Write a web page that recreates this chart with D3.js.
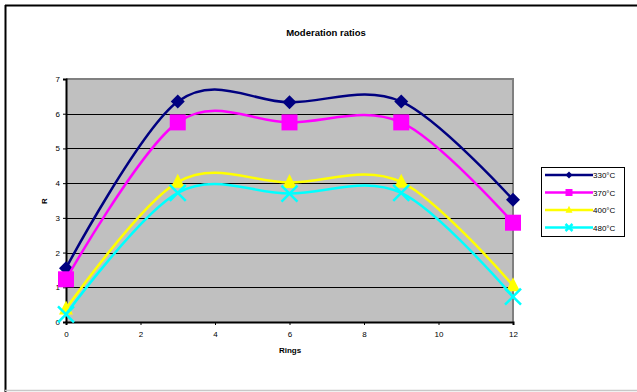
<!DOCTYPE html>
<html>
<head>
<meta charset="utf-8">
<script src="https://cdn.jsdelivr.net/npm/d3@7"></script>
<style>
  html, body { margin: 0; padding: 0; background: #fff; }
  svg { display: block; font-family: Arial, "Liberation Sans", sans-serif; }
</style>
</head>
<body>
<svg id="chart" width="637" height="392"></svg>
<script>
// Moderation ratio R per ring position, one series per temperature
const rings = [0, 3, 6, 9, 12];
const seriesNames = ["330°C", "370°C", "400°C", "480°C"];
const r330 = [1.55, 6.35, 6.33, 6.35, 3.52];
const r370 = [1.23, 5.75, 5.75, 5.75, 2.86];
const r400 = [0.38, 4.03, 4.02, 4.03, 1.05];
const r480 = [0.22, 3.72, 3.70, 3.72, 0.73];
const xTicks = [0, 2, 4, 6, 8, 10, 12];
const yTicks = [0, 1, 2, 3, 4, 5, 6, 7];
const colors = ["#000080", "#FF00FF", "#FFFF00", "#00FFFF"];
const markers = ["diamond", "square", "triangle", "x"];

const series = seriesNames.map((name, i) => ({
  name,
  values: [r330, r370, r400, r480][i],
  color: colors[i],
  marker: markers[i]
}));

const svg = d3.select("#chart");

// Chart frame: dark left/top edge, light bottom edge
svg.append("line").attr("x1", 5.5).attr("x2", 5.5).attr("y1", 5).attr("y2", 392)
  .attr("stroke", "#000").attr("stroke-width", 2);
svg.append("line").attr("x1", 5).attr("x2", 637).attr("y1", 5.5).attr("y2", 5.5)
  .attr("stroke", "#000").attr("stroke-width", 2);
svg.append("line").attr("x1", 5).attr("x2", 637).attr("y1", 390.5).attr("y2", 390.5)
  .attr("stroke", "#c8c8c8").attr("stroke-width", 1.5);

const plot = { left: 66, right: 513, top: 79, bottom: 322 };
const x = d3.scaleLinear().domain([0, 12]).range([plot.left, plot.right]);
const y = d3.scaleLinear().domain([0, 7]).range([plot.bottom, plot.top]);

// Plot background
svg.append("rect")
  .attr("x", plot.left).attr("y", plot.top)
  .attr("width", plot.right - plot.left).attr("height", plot.bottom - plot.top)
  .attr("fill", "#C0C0C0");
svg.append("path")
  .attr("d", `M${plot.left},${plot.top}H${plot.right}V${plot.bottom}`)
  .attr("fill", "none").attr("stroke", "#808080").attr("stroke-width", 2);

// Horizontal gridlines
svg.append("g").selectAll("line")
  .data(yTicks.filter(t => t > 0 && t < 7))
  .join("line")
  .attr("x1", plot.left).attr("x2", plot.right)
  .attr("y1", d => Math.round(y(d)) + 0.5).attr("y2", d => Math.round(y(d)) + 0.5)
  .attr("stroke", "#000").attr("stroke-width", 1);

// Axes
const yAxis = svg.append("g")
  .attr("transform", `translate(${plot.left},0)`)
  .call(d3.axisLeft(y).tickValues(yTicks).tickFormat(d3.format("d")).tickSize(3).tickPadding(3));
const xAxis = svg.append("g")
  .attr("transform", `translate(0,${plot.bottom})`)
  .call(d3.axisBottom(x).tickValues(xTicks).tickFormat(d3.format("d")).tickSize(3).tickPadding(6));
[yAxis, xAxis].forEach(a => {
  a.select(".domain").attr("stroke", "#000").attr("stroke-width", 2);
  a.selectAll(".tick line").attr("stroke", "#000");
  a.selectAll(".tick text").attr("font-size", 8).attr("fill", "#000")
    .attr("font-family", "Arial, 'Liberation Sans', sans-serif");
});

// Titles
svg.append("text").attr("x", 326).attr("y", 36).attr("text-anchor", "middle")
  .attr("font-size", 9.5).attr("font-weight", "bold").text("Moderation ratios");
svg.append("text").attr("x", 290).attr("y", 353).attr("text-anchor", "middle")
  .attr("font-size", 8).attr("font-weight", "bold").text("Rings");
svg.append("text").attr("transform", "translate(47,201) rotate(-90)")
  .attr("text-anchor", "middle").attr("font-size", 8).attr("font-weight", "bold").text("R");

// Smoothed series lines
const line = d3.line()
  .x(d => x(d[0])).y(d => y(d[1]))
  .curve(d3.curveCardinal.tension(0));

function drawMarker(g, type, color, size) {
  if (type === "diamond") {
    g.append("path").attr("d", `M0,${-size}L${size},0L0,${size}L${-size},0Z`).attr("fill", color);
  } else if (type === "square") {
    g.append("rect").attr("x", -size).attr("y", -size).attr("width", 2 * size).attr("height", 2 * size).attr("fill", color);
  } else if (type === "triangle") {
    g.append("path").attr("d", `M0,${-size * 1.2}L${size},${size * 0.8}L${-size},${size * 0.8}Z`).attr("fill", color);
  } else {
    g.append("path").attr("d", `M${-size},${-size}L${size},${size}M${size},${-size}L${-size},${size}`)
      .attr("stroke", color).attr("stroke-width", 2.5).attr("fill", "none");
  }
}

const sizes = { diamond: 7, square: 8, triangle: 7, x: 8 };

series.forEach(s => {
  const pts = rings.map((r, i) => [r, s.values[i]]);
  svg.append("path").datum(pts).attr("d", line)
    .attr("fill", "none").attr("stroke", s.color).attr("stroke-width", 2.5);
  pts.forEach(p => {
    const g = svg.append("g").attr("transform", `translate(${x(p[0])},${y(p[1])})`);
    drawMarker(g, s.marker, s.color, sizes[s.marker]);
  });
});

// Legend
const legend = svg.append("g").attr("transform", "translate(541,167)");
legend.append("rect").attr("x", 0.5).attr("y", 0.5).attr("width", 83).attr("height", 69)
  .attr("fill", "#fff").attr("stroke", "#000").attr("stroke-width", 1);
series.forEach((s, i) => {
  const ly = 8 + i * 17.5;
  legend.append("line").attr("x1", 4).attr("x2", 52).attr("y1", ly).attr("y2", ly)
    .attr("stroke", s.color).attr("stroke-width", 2.5);
  const g = legend.append("g").attr("transform", `translate(28,${ly})`);
  drawMarker(g, s.marker, s.color, 3.5);
  legend.append("text").attr("x", 52).attr("y", ly + 3).attr("font-size", 8).text(s.name);
});
</script>
</body>
</html>
